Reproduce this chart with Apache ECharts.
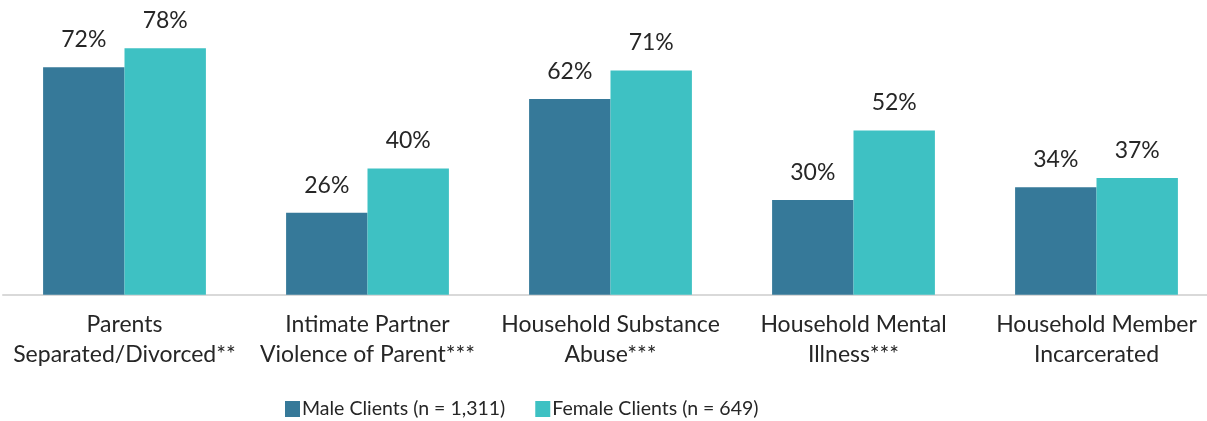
<!DOCTYPE html>
<html><head><meta charset="utf-8">
<script src="https://cdn.jsdelivr.net/npm/echarts@6/dist/echarts.min.js"></script>
<style>html,body{margin:0;padding:0;background:#fff}#c{width:1207px;height:421px}</style>
</head><body><div id="c"></div>
<script>
const categories = ["Parents\nSeparated/Divorced**", "Intimate Partner\nViolence of Parent***", "Household Substance\nAbuse***", "Household Mental\nIllness***", "Household Member\nIncarcerated"];
const maleValues = [72, 26, 62, 30, 34];
const femaleValues = [78, 40, 71, 52, 37];
const seriesNames = ["Male Clients (n = 1,311)", "Female Clients (n = 649)"];
const FONT = "Lato";
const chart = echarts.init(document.getElementById('c'));
const lbl = {show: true, position: 'top', distance: 16, formatter: '{c}%', fontSize: 23, fontFamily: FONT, color: '#262626'};
chart.setOption({
  animation: false,
  grid: {left: 3, width: 1215, top: 10.4, bottom: 126.2, containLabel: false, outerBoundsMode: 'none'},
  legend: {
    left: 285, top: 399, padding: 0, itemWidth: 15, itemHeight: 16, itemGap: 30,
    icon: 'rect',
    textStyle: {fontSize: 19.5, fontFamily: FONT, color: '#262626', padding: [0,0,0,-3]},
    data: seriesNames
  },
  xAxis: {
    type: 'category', data: categories,
    axisLine: {lineStyle: {color: '#d9d9d9', width: 2}},
    axisTick: {show: false},
    axisLabel: {fontSize: 23, fontFamily: FONT, color: '#262626', lineHeight: 30, margin: 15, interval: 0}
  },
  yAxis: {type: 'value', min: 0, max: 90, show: false, splitLine: {show: false}},
  series: [
    {name: seriesNames[0], type: 'bar', data: maleValues, barCategoryGap: '33%', barGap: '0%',
     itemStyle: {color: '#367999'}, label: lbl},
    {name: seriesNames[1], type: 'bar', data: femaleValues, barCategoryGap: '33%', barGap: '0%',
     itemStyle: {color: '#3ec1c3'}, label: lbl}
  ]
});
</script></body></html>
